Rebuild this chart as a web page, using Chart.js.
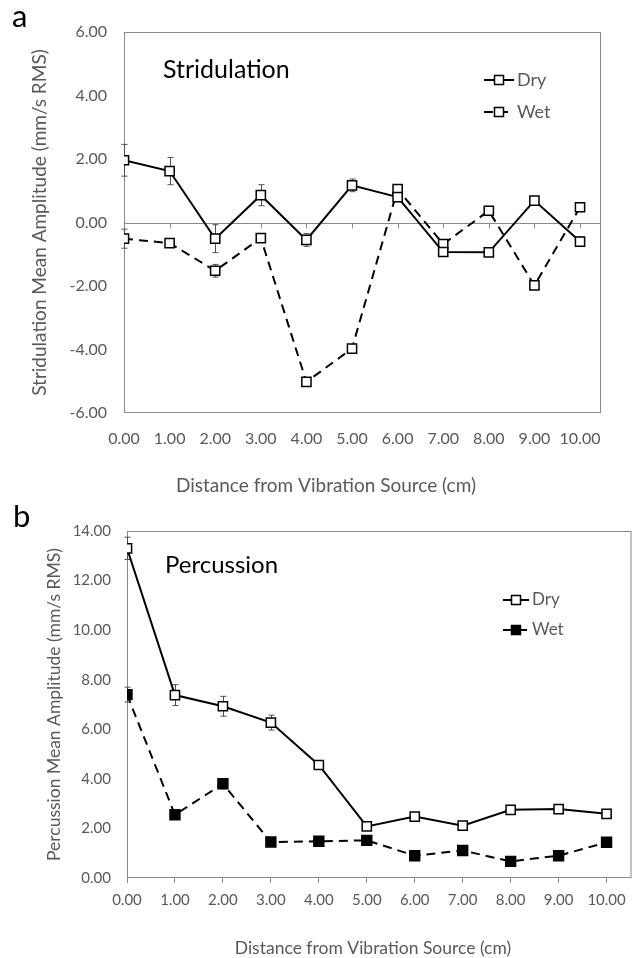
<!DOCTYPE html>
<html>
<head>
<meta charset="utf-8">
<script src="https://cdn.jsdelivr.net/npm/chart.js@4.4.1/dist/chart.umd.min.js"></script>
<style>
    body { margin: 0; background: #fff; }
    #wrap { position: relative; width: 640px; height: 958px; }
    #stridChart { position: absolute; left: 0; top: 0; }
    #percChart { position: absolute; left: 0; top: 505px; }
</style>
</head>
<body>
<div id="wrap">
    <canvas id="stridChart" width="640" height="505"></canvas>
    <canvas id="percChart" width="640" height="453"></canvas>
</div>
<script>
/* Vibration amplitude vs distance — stridulation (a) and percussion (b) */

const distances = [0, 1, 2, 3, 4, 5, 6, 7, 8, 9, 10];

const stridDry    = [1.96, 1.62, -0.51, 0.86, -0.55, 1.17, 0.80, -0.93, -0.94, 0.69, -0.60];
const stridDryErr = [0.50, 0.43, 0.44, 0.33, 0.20, 0.20, 0.10, 0.08, 0.12, 0.08, 0.15];
const stridWet    = [-0.51, -0.65, -1.52, -0.49, -5.02, -3.97, 1.05, -0.68, 0.37, -1.98, 0.48];
const stridWetErr = [0.30, 0.12, 0.20, 0.10, 0.10, 0.08, 0.12, 0.12, 0.08, 0.10, 0.12];

const percDry    = [13.30, 7.38, 6.93, 6.27, 4.56, 2.08, 2.48, 2.11, 2.75, 2.78, 2.59];
const percDryErr = [0.45, 0.42, 0.40, 0.30, 0.10, 0.10, 0.10, 0.10, 0.10, 0.10, 0.10];
const percWet    = [7.40, 2.55, 3.80, 1.45, 1.48, 1.52, 0.90, 1.11, 0.67, 0.90, 1.44];
const percWetErr = [0.30, 0.10, 0.20, 0.10, 0.10, 0.10, 0.10, 0.10, 0.10, 0.10, 0.10];

const FONT = 'Lato, "Open Sans", sans-serif';
const AXIS_GREY = '#898989';
const TEXT_GREY = '#595959';

const toPoints = vals => vals.map((v, i) => ({ x: distances[i], y: v }));

// frame, zero line, error bars, legend and free text
const decorPlugin = {
    id: 'decor',
    beforeDatasetsDraw(chart, args, opts) {
        const { ctx, chartArea: a, scales: { x, y } } = chart;
        ctx.save();
        ctx.strokeStyle = AXIS_GREY;
        ctx.lineWidth = 1;
        ctx.strokeRect(a.left + 0.5, a.top + 0.5, a.right - a.left - 1, a.bottom - a.top - 1);

        if (opts.zeroLine) {
            const y0 = Math.round(y.getPixelForValue(0)) + 0.5;
            ctx.beginPath();
            ctx.moveTo(a.left, y0);
            ctx.lineTo(a.right, y0);
            x.ticks.forEach(t => {
                const px = Math.round(x.getPixelForValue(t.value)) + 0.5;
                ctx.moveTo(px, y0);
                ctx.lineTo(px, y0 + 5);
            });
            ctx.stroke();
        }

        // error bars
        ctx.strokeStyle = '#505050';
        ctx.lineWidth = 1;
        (opts.errors || []).forEach((errs, i) => {
            const meta = chart.getDatasetMeta(i);
            const data = chart.data.datasets[i].data;
            meta.data.forEach((pt, j) => {
                const e = errs[j];
                if (!e) return;
                const top = y.getPixelForValue(data[j].y + e);
                const bot = y.getPixelForValue(data[j].y - e);
                const px = Math.round(pt.x) + 0.5;
                ctx.beginPath();
                ctx.moveTo(px, top); ctx.lineTo(px, bot);
                ctx.moveTo(px - 3, top); ctx.lineTo(px + 3, top);
                ctx.moveTo(px - 3, bot); ctx.lineTo(px + 3, bot);
                ctx.stroke();
            });
        });
        ctx.restore();
    },
    afterDraw(chart, args, opts) {
        const { ctx } = chart;
        ctx.save();
        (opts.texts || []).forEach(t => {
            ctx.font = t.font;
            ctx.fillStyle = t.color;
            ctx.textAlign = t.align || 'left';
            ctx.textBaseline = t.baseline || 'middle';
            ctx.fillText(t.text, t.x, t.y);
        });

        const lg = opts.legend;
        if (lg) {
            lg.items.forEach((item, i) => {
                const ly = lg.y + i * lg.gap;
                const ds = chart.data.datasets[item.index];
                ctx.strokeStyle = '#000';
                ctx.lineWidth = 2;
                ctx.setLineDash(ds.borderDash || []);
                ctx.beginPath();
                ctx.moveTo(lg.x, ly);
                ctx.lineTo(lg.x + lg.len, ly);
                ctx.stroke();
                ctx.setLineDash([]);
                const s = lg.box;
                const cx = lg.x + lg.len / 2;
                ctx.fillStyle = ds.pointBackgroundColor;
                ctx.fillRect(cx - s / 2, ly - s / 2, s, s);
                ctx.lineWidth = 1.5;
                ctx.strokeRect(cx - s / 2, ly - s / 2, s, s);
                ctx.font = lg.font;
                ctx.fillStyle = TEXT_GREY;
                ctx.textAlign = 'left';
                ctx.textBaseline = 'middle';
                ctx.fillText(ds.label, lg.x + lg.len + 3, ly);
            });
        }
        ctx.restore();
    }
};

function makeChart(id, cfg) {
    return new Chart(document.getElementById(id).getContext('2d'), {
        type: 'line',
        data: {
            datasets: [
                {
                    label: 'Dry',
                    data: toPoints(cfg.dry),
                    borderColor: '#000',
                    borderWidth: 2,
                    pointStyle: 'rect',
                    pointRadius: 6.5,
                    pointBorderWidth: 1.5,
                    pointBorderColor: '#000',
                    pointBackgroundColor: '#fff',
                    fill: false,
                },
                {
                    label: 'Wet',
                    data: toPoints(cfg.wet),
                    borderColor: '#000',
                    borderWidth: 2,
                    borderDash: [9, 6],
                    pointStyle: 'rect',
                    pointRadius: cfg.wetFill === '#000' ? 7 : 6.5,
                    pointBorderWidth: 1.5,
                    pointBorderColor: '#000',
                    pointBackgroundColor: cfg.wetFill,
                    fill: false,
                },
            ]
        },
        options: {
            responsive: false,
            animation: false,
            devicePixelRatio: 1,
            layout: { padding: { left: 0, right: cfg.padRight, top: cfg.padTop, bottom: 0 } },
            scales: {
                x: {
                    type: 'linear',
                    min: 0,
                    max: cfg.xMax,
                    afterBuildTicks: s => { s.ticks = distances.map(v => ({ value: v })); },
                    afterFit: s => { s.height = cfg.xHeight; },
                    border: { display: false },
                    grid: {
                        display: true,
                        drawOnChartArea: false,
                        drawTicks: cfg.xTicks,
                        tickLength: 5,
                        tickColor: AXIS_GREY,
                    },
                    ticks: {
                        padding: cfg.xPad,
                        maxRotation: 0,
                        color: TEXT_GREY,
                        font: { family: FONT, size: cfg.tickSize },
                        callback: v => v.toFixed(2),
                    },
                },
                y: {
                    min: cfg.yMin,
                    max: cfg.yMax,
                    afterFit: s => { s.width = cfg.yWidth; },
                    border: { display: false },
                    grid: { display: true, drawOnChartArea: false, drawTicks: false },
                    ticks: {
                        stepSize: 2,
                        padding: cfg.yPad,
                        color: TEXT_GREY,
                        font: { family: FONT, size: cfg.tickSize },
                        callback: v => v.toFixed(2),
                    },
                    title: {
                        display: true,
                        text: cfg.yTitle,
                        color: TEXT_GREY,
                        font: { family: FONT, size: cfg.yTitleSize },
                        padding: { top: cfg.yTitlePad, bottom: 0 },
                    },
                },
            },
            plugins: {
                legend: { display: false },
                tooltip: { enabled: false },
                decor: {
                    zeroLine: cfg.zeroLine,
                    errors: [cfg.dryErr, cfg.wetErr],
                    legend: cfg.legend,
                    texts: cfg.texts,
                },
            },
        },
        plugins: [decorPlugin],
    });
}

makeChart('stridChart', {
    dry: stridDry, dryErr: stridDryErr,
    wet: stridWet, wetErr: stridWetErr,
    wetFill: '#fff',
    yMin: -6, yMax: 6,
    xMax: 10.46,
    padRight: 39, padTop: 32,
    xHeight: 92, yWidth: 124,
    xTicks: false, xPad: 16, yPad: 17,
    tickSize: 16,
    yTitle: 'Stridulation Mean Amplitude (mm/s RMS)',
    yTitleSize: 19,
    yTitlePad: 28,
    zeroLine: true,
    legend: {
        x: 484, y: 80, gap: 32, len: 30, box: 9,
        font: '18px ' + FONT,
        items: [{ index: 0 }, { index: 1 }],
    },
    texts: [
        { text: 'a', x: 12, y: 27, font: '31px ' + FONT, color: '#000', baseline: 'alphabetic' },
        { text: 'Stridulation', x: 163, y: 70, font: '25px ' + FONT, color: '#000' },
        { text: 'Distance from Vibration Source (cm)', x: 326, y: 486, font: '19px ' + FONT, color: TEXT_GREY, align: 'center' },
    ],
});

makeChart('percChart', {
    dry: percDry, dryErr: percDryErr,
    wet: percWet, wetErr: percWetErr,
    wetFill: '#000',
    yMin: 0, yMax: 14,
    xMax: 10.52,
    padRight: 8, padTop: 26,
    xHeight: 80, yWidth: 127,
    xTicks: true, xPad: 8, yPad: 16,
    tickSize: 15,
    yTitle: 'Percussion Mean Amplitude (mm/s RMS)',
    yTitleSize: 17.5,
    yTitlePad: 44,
    zeroLine: false,
    legend: {
        x: 503, y: 95, gap: 30, len: 26, box: 9,
        font: '17px ' + FONT,
        items: [{ index: 0 }, { index: 1 }],
    },
    texts: [
        { text: 'b', x: 13, y: 22, font: '31px ' + FONT, color: '#000', baseline: 'alphabetic' },
        { text: 'Percussion', x: 165, y: 60, font: '24px ' + FONT, color: '#000' },
        { text: 'Distance from Vibration Source (cm)', x: 373, y: 443, font: '17.5px ' + FONT, color: TEXT_GREY, align: 'center' },
    ],
});
</script>
</body>
</html>
